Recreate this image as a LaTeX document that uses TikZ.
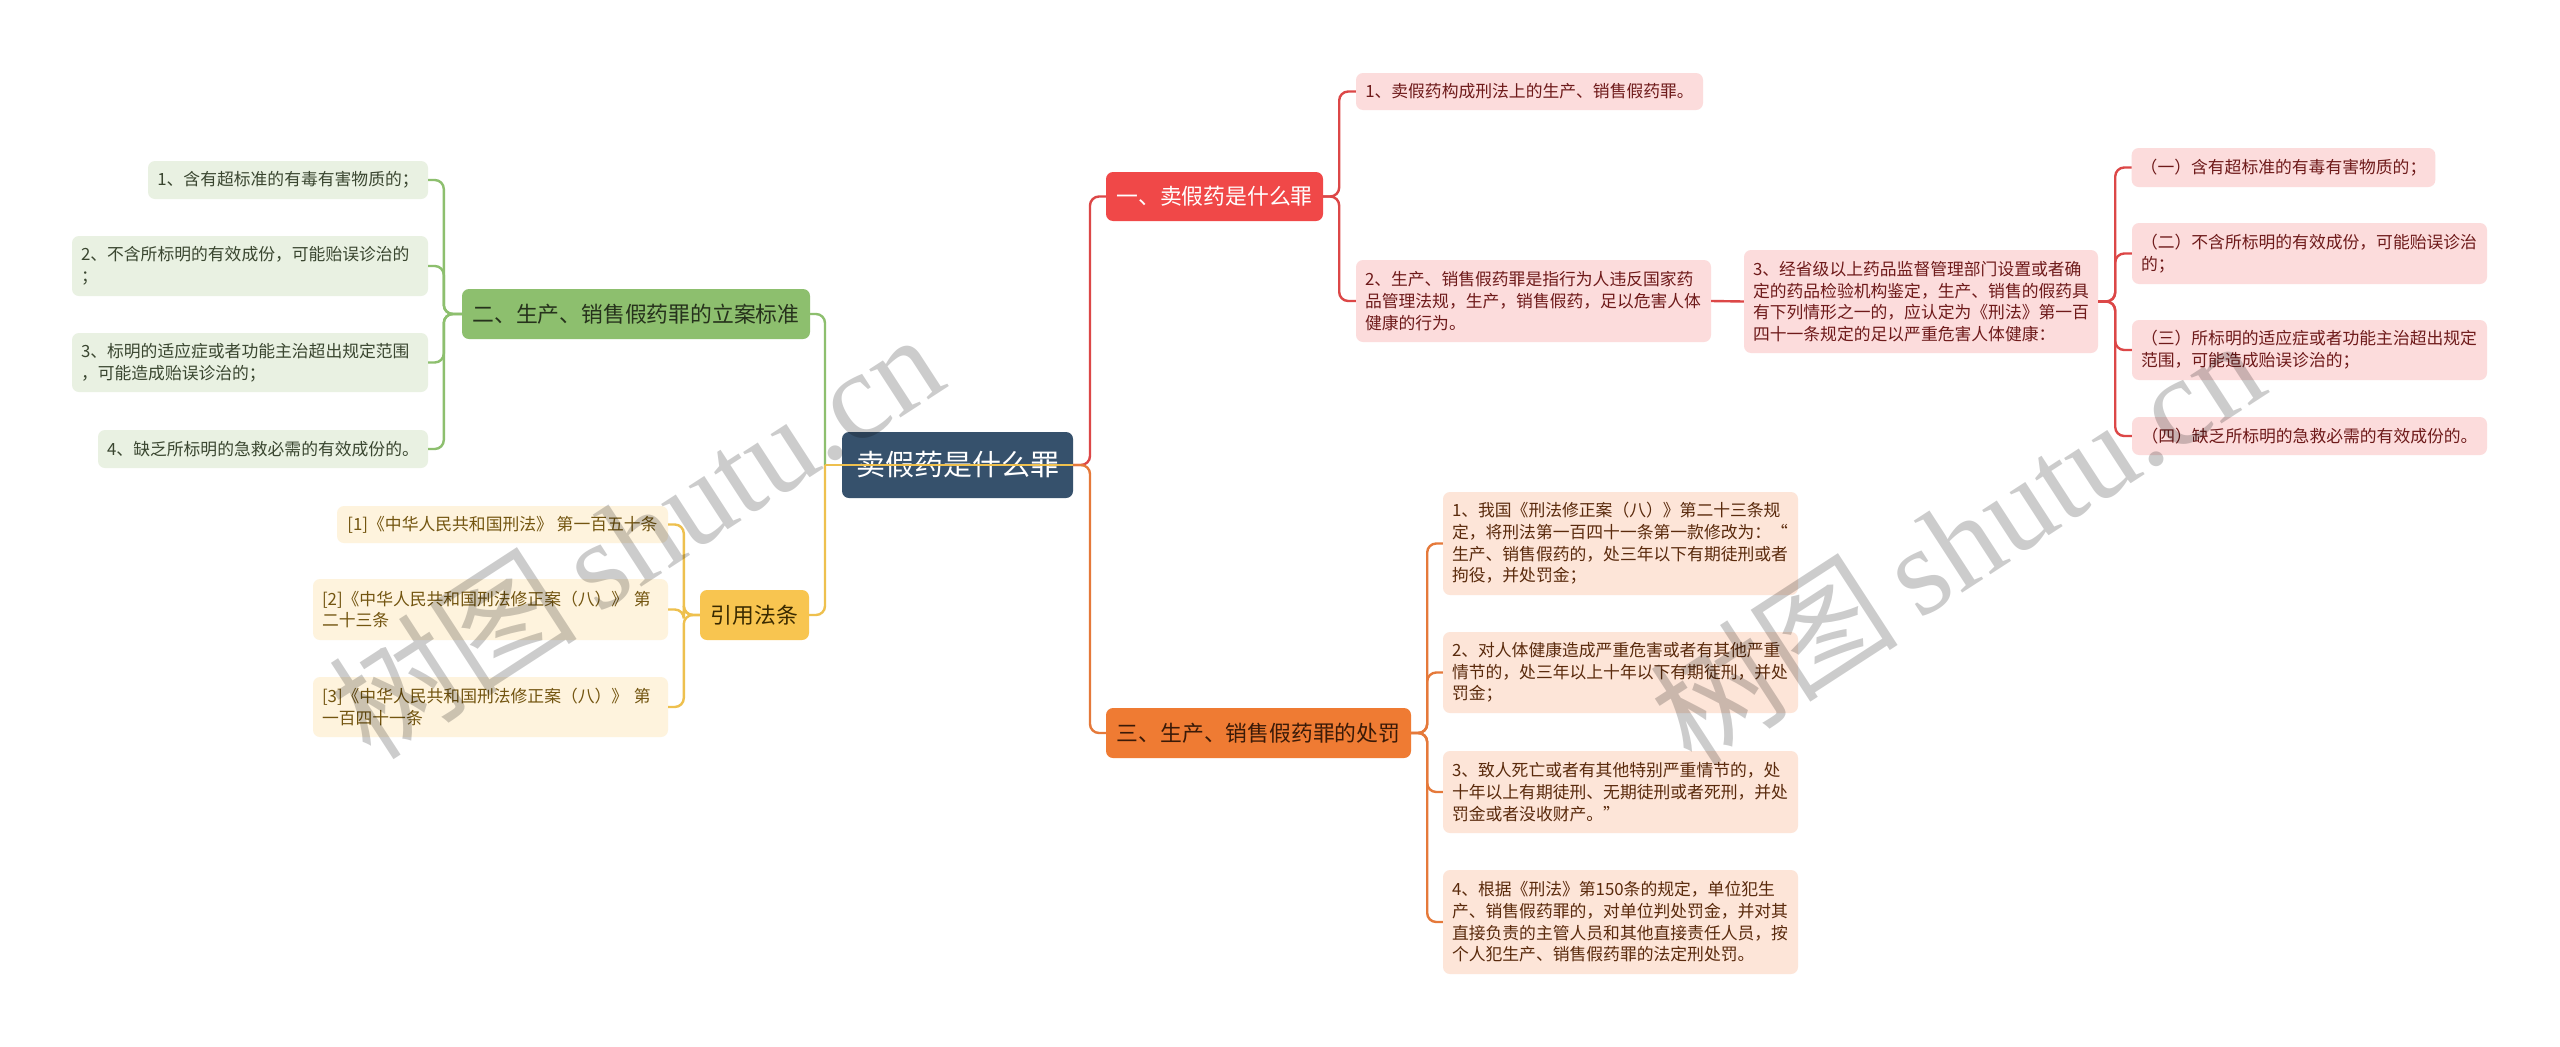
\documentclass[tikz,border=0pt]{standalone}
\usepackage{fontspec}
\setmainfont{Noto Sans CJK SC}
\newfontfamily\wmlatin{Liberation Serif}
\begin{document}
\definecolor{cfill}{HTML}{36516C}
\definecolor{rfill}{HTML}{F04848}
\definecolor{rleaf}{HTML}{FCDCDC}
\definecolor{rtext}{HTML}{6E1A1A}
\definecolor{rline}{HTML}{DC4747}
\definecolor{gfill}{HTML}{8DBF6E}
\definecolor{gleaf}{HTML}{E9F1E2}
\definecolor{gtext}{HTML}{3A4630}
\definecolor{gbtext}{HTML}{26321C}
\definecolor{gline}{HTML}{8DBF6E}
\definecolor{yfill}{HTML}{F8C550}
\definecolor{yleaf}{HTML}{FEF3DD}
\definecolor{ytext}{HTML}{735510}
\definecolor{ybtext}{HTML}{3A2A00}
\definecolor{yline}{HTML}{EEC04E}
\definecolor{ofill}{HTML}{EF7B33}
\definecolor{oleaf}{HTML}{FDE5D8}
\definecolor{otext}{HTML}{5A2A0C}
\definecolor{obtext}{HTML}{3A1A08}
\definecolor{oline}{HTML}{E5793A}
\begin{tikzpicture}[x=1pt,y=-1pt,
  box/.style={rectangle, rounded corners=7pt, inner xsep=9pt, inner ysep=0pt},
  sz/.style 2 args={minimum width=#1pt, minimum height=#2pt},
  ml/.style={align=left, text width=#1pt},
  leaf/.style={box, font=\fontsize{16.8}{21.7}\selectfont},
  branch/.style={box, font=\fontsize{21.8}{26}\selectfont},
  rleafs/.style={leaf, fill=rleaf, text=rtext},
  gleafs/.style={leaf, fill=gleaf, text=gtext},
  yleafs/.style={leaf, fill=yleaf, text=ytext},
  oleafs/.style={leaf, fill=oleaf, text=otext},
  conn/.style={line width=2.4pt, rounded corners=9pt},
  wm/.style={font=\fontsize{125}{125}\selectfont, text=black, opacity=0.2, rotate=33, inner sep=0pt}
]
\useasboundingbox[fill=white] (0,0) rectangle (2560,1047);

% centre
\node[box, fill=cfill, text=white, sz={231}{66}, font=\fontsize{29}{34}\selectfont] (c) at (957.5,465) {卖假药是什么罪};

% branches
\node[branch, fill=rfill, text=white, sz={217}{49}] (rb) at (1214.5,196.5) {一、卖假药是什么罪};
\node[branch, fill=gfill, text=gbtext, sz={348}{50}] (gb) at (636,314) {二、生产、销售假药罪的立案标准};
\node[branch, fill=ofill, text=obtext, sz={305}{50}] (ob) at (1258.5,733) {三、生产、销售假药罪的处罚};
\node[branch, fill=yfill, text=ybtext, sz={109}{50}] (yb) at (754.5,615) {引用法条};

% green leaves
\node[gleafs, sz={280}{38}] (g1) at (288,180) {1、含有超标准的有毒有害物质的；};
\node[gleafs, sz={356}{60}, ml=338] (g2) at (250,266) {2、不含所标明的有效成份，可能贻误诊治的\\；};
\node[gleafs, sz={356}{59}, ml=338] (g3) at (250,362.5) {3、标明的适应症或者功能主治超出规定范围\\，可能造成贻误诊治的；};
\node[gleafs, sz={330}{38}] (g4) at (263,449) {4、缺乏所标明的急救必需的有效成份的。};

% yellow leaves
\node[yleafs, sz={331}{37}] (y1) at (502.5,524.5) {[1]《中华人民共和国刑法》~第一百五十条};
\node[yleafs, sz={355}{61}, ml=337] (y2) at (490.5,609.5) {[2]《中华人民共和国刑法修正案（八）》~第\\二十三条};
\node[yleafs, sz={355}{60}, ml=337] (y3) at (490.5,707) {[3]《中华人民共和国刑法修正案（八）》~第\\一百四十一条};

% red leaves
\node[rleafs, sz={347}{37}] (r1) at (1529.5,91.5) {1、卖假药构成刑法上的生产、销售假药罪。};
\node[rleafs, sz={355}{82}, ml=337] (r2) at (1533.5,301) {2、生产、销售假药罪是指行为人违反国家药\\品管理法规，生产，销售假药，足以危害人体\\健康的行为。};
\node[rleafs, sz={354}{103}, ml=336] (r3) at (1921,301.5) {3、经省级以上药品监督管理部门设置或者确\\定的药品检验机构鉴定，生产、销售的假药具\\有下列情形之一的，应认定为《刑法》第一百\\四十一条规定的足以严重危害人体健康：};
\node[rleafs, sz={303}{39}] (r31) at (2283.5,167.5) {（一）含有超标准的有毒有害物质的；};
\node[rleafs, sz={355}{61}, ml=337] (r32) at (2309.5,253.5) {（二）不含所标明的有效成份，可能贻误诊治\\的；};
\node[rleafs, sz={355}{60}, ml=337] (r33) at (2309.5,350) {（三）所标明的适应症或者功能主治超出规定\\范围，可能造成贻误诊治的；};
\node[rleafs, sz={355}{38}] (r34) at (2309.5,436) {（四）缺乏所标明的急救必需的有效成份的。};

% orange leaves
\node[oleafs, sz={355}{103}, ml=337] (o1) at (1620.5,543.5) {1、我国《刑法修正案（八）》第二十三条规\\定，将刑法第一百四十一条第一款修改为：“\\生产、销售假药的，处三年以下有期徒刑或者\\拘役，并处罚金；};
\node[oleafs, sz={355}{81}, ml=337] (o2) at (1620.5,672.5) {2、对人体健康造成严重危害或者有其他严重\\情节的，处三年以上十年以下有期徒刑，并处\\罚金；};
\node[oleafs, sz={355}{82}, ml=337] (o3) at (1620.5,792) {3、致人死亡或者有其他特别严重情节的，处\\十年以上有期徒刑、无期徒刑或者死刑，并处\\罚金或者没收财产。”};
\node[oleafs, sz={355}{104}, ml=337] (o4) at (1620.5,922) {4、根据《刑法》第150条的规定，单位犯生\\产、销售假药罪的，对单位判处罚金，并对其\\直接负责的主管人员和其他直接责任人员，按\\个人犯生产、销售假药罪的法定刑处罚。};

% main connectors
\coordinate (cl) at (825,465);
\coordinate (cr) at (1090,465);
\draw[conn, gline] (gb.east) -| (cl);
\draw[line width=2.4pt, gline] (cl) -- (c.east);
\draw[conn, yline] (yb.east) -| (cl);
\draw[line width=2.4pt, yline] (cl) -- (c.east);
\draw[conn, rline] (c.east) -- (cr) |- (rb.west);
\draw[conn, oline] (c.east) -- (cr) |- (ob.west);

% green leaf connectors
\foreach \n in {g1,g2,g3,g4}{\draw[conn, gline] (gb.west) -- ++(-18,0) |- (\n.east);}
% yellow leaf connectors
\foreach \n in {y1,y2,y3}{\draw[conn, yline] (yb.west) -- ++(-16,0) |- (\n.east);}
% red leaf connectors
\foreach \n in {r1,r2}{\draw[conn, rline] (rb.east) -- ++(16,0) |- (\n.west);}
\draw[conn, rline] (r2.east) -- (r3.west);
\foreach \n in {r31,r32,r33,r34}{\draw[conn, rline] (r3.east) -- ++(17,0) |- (\n.west);}
% orange leaf connectors
\foreach \n in {o1,o2,o3,o4}{\draw[conn, oline] (ob.east) -- ++(16,0) |- (\n.west);}

% watermarks
\node[wm] (wm1) at (635,534) {树图\,{\wmlatin shutu.cn}};
\node[wm] (wm2) at (1956,540) {树图\,{\wmlatin shutu.cn}};
\end{tikzpicture}
\end{document}
